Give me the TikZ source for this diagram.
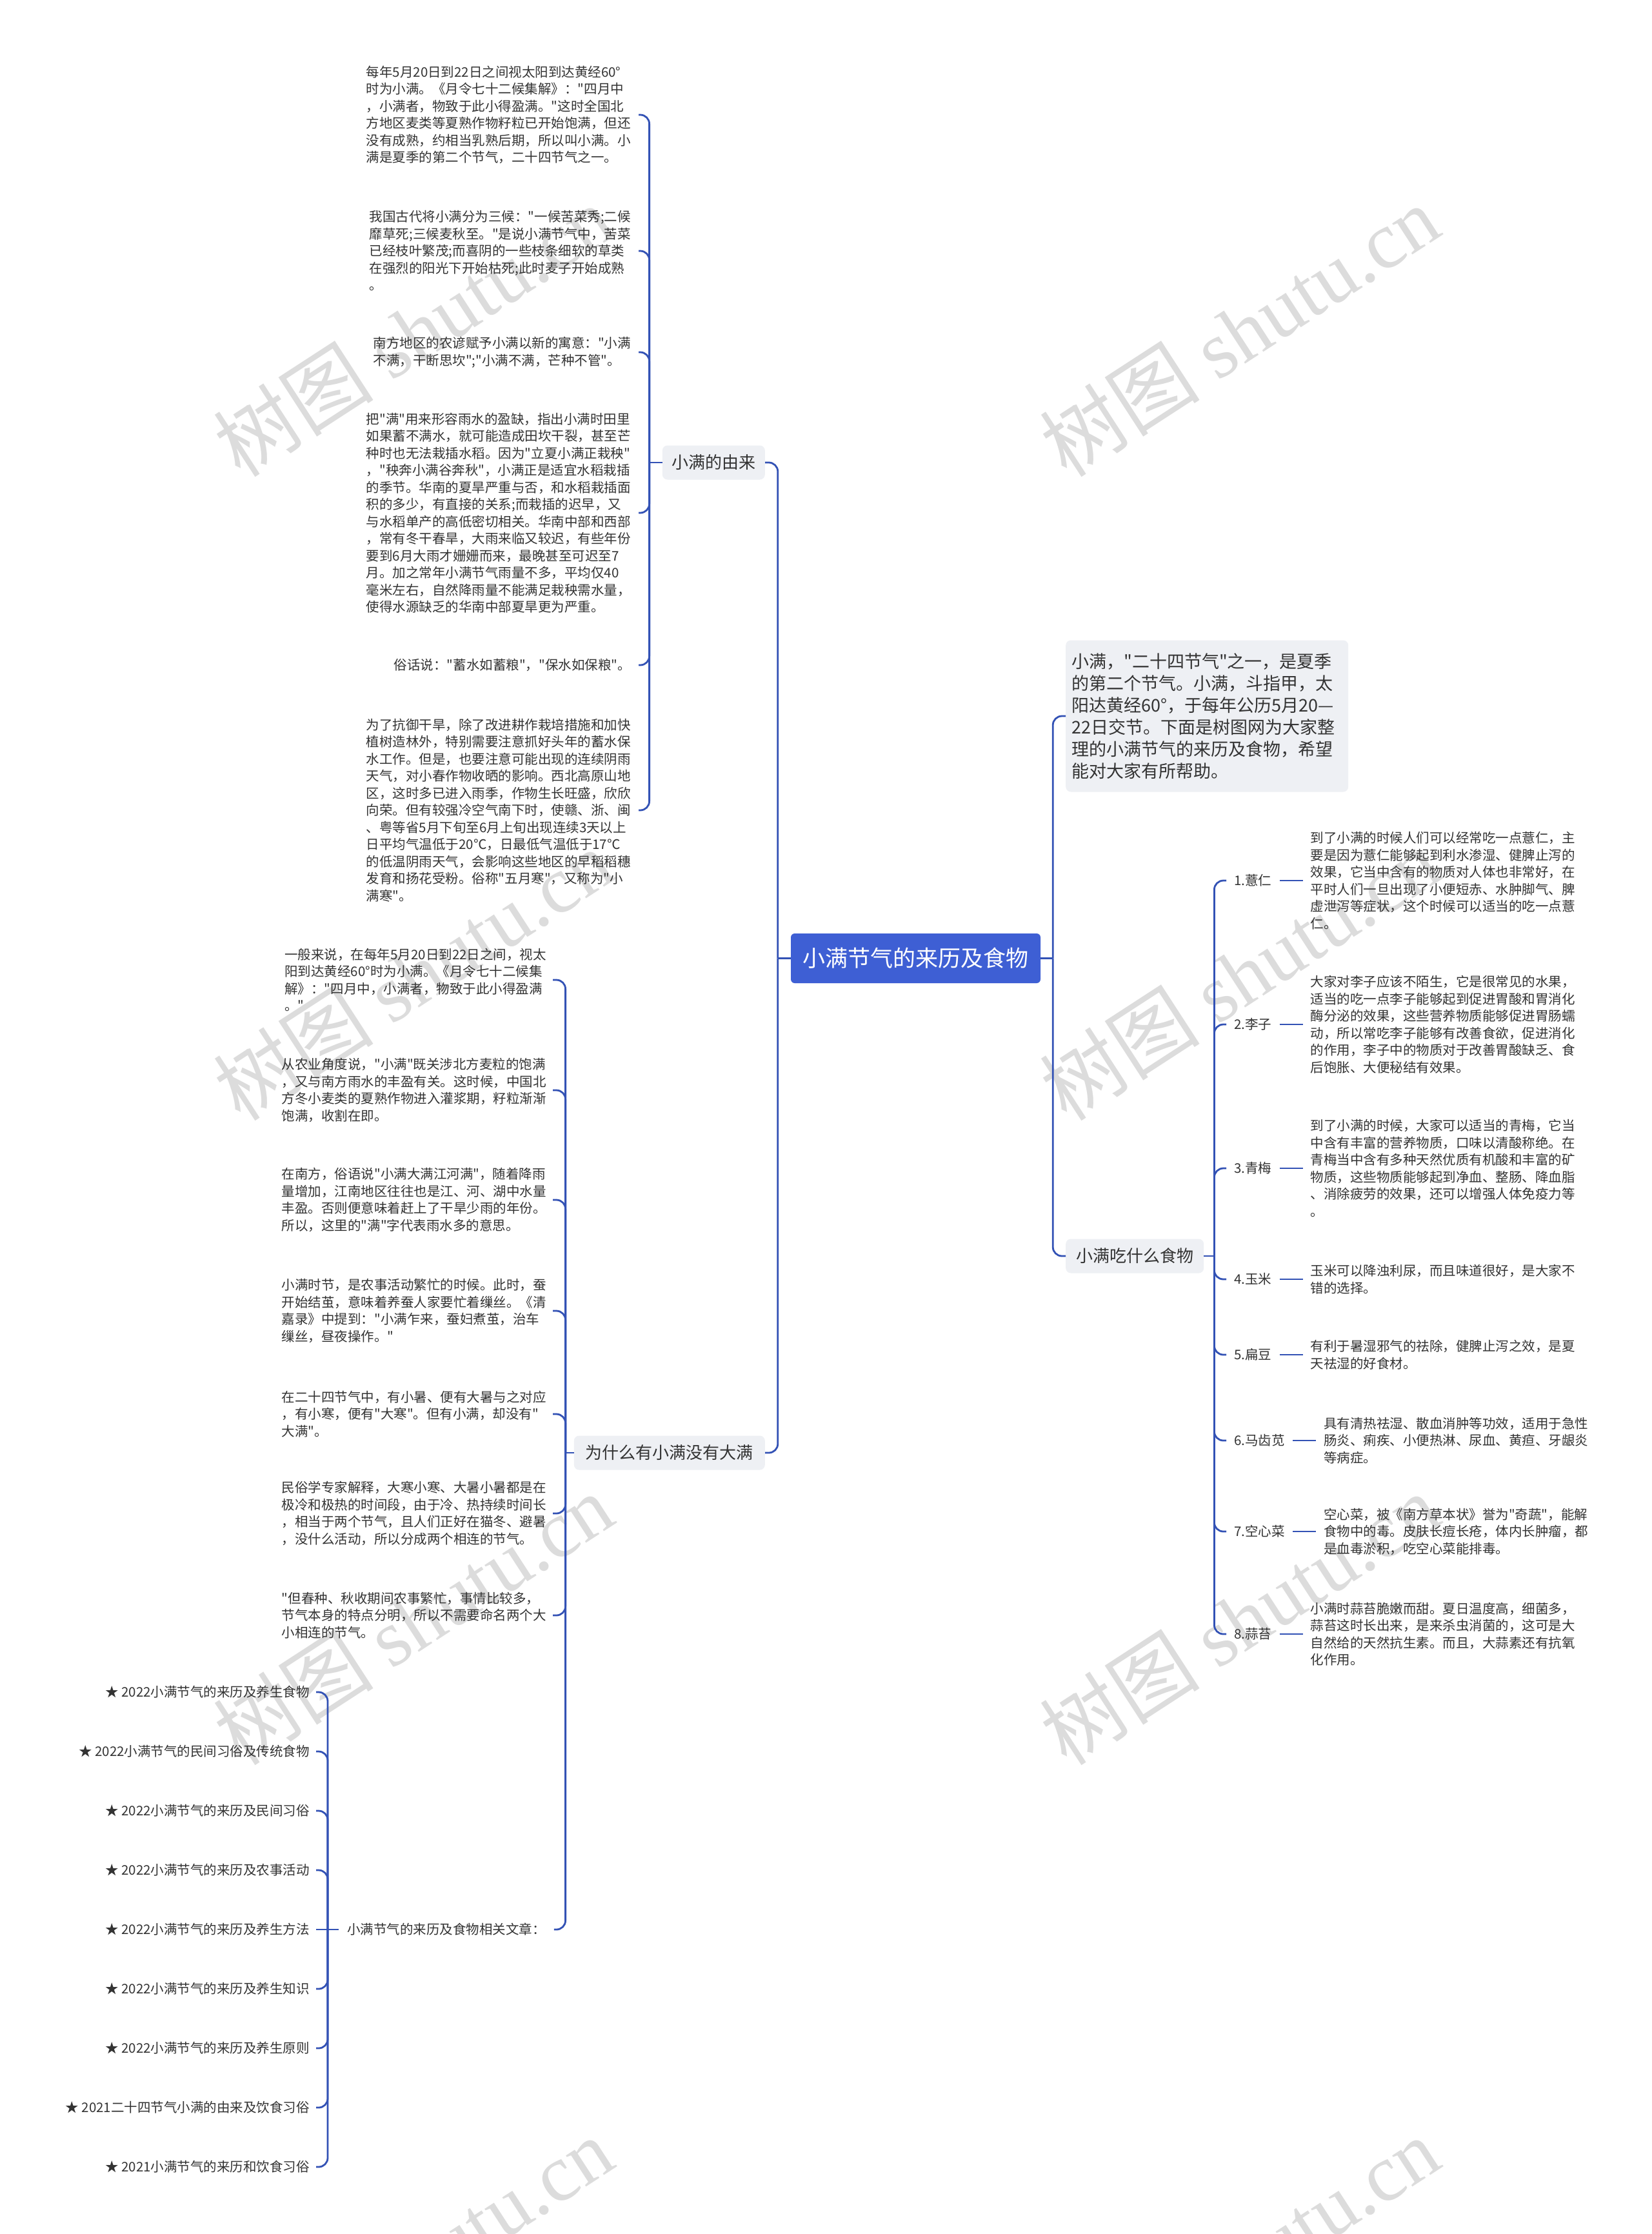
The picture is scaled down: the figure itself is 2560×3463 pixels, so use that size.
\documentclass[tikz,border=0pt]{standalone}
\usepackage{fontspec}
\setmainfont{Noto Sans CJK SC}[Ligatures=TeXOff]
\newfontfamily\wmserif{Liberation Serif}
\usetikzlibrary{calc}
\definecolor{conncol}{HTML}{3352B5}
\definecolor{rootcol}{HTML}{3E5FD4}
\definecolor{boxcol}{HTML}{EEF0F4}
\definecolor{txtcol}{HTML}{333333}
\definecolor{wmcol}{HTML}{DCDCDC}
\begin{document}
\begin{tikzpicture}[x=1pt,y=-1pt,
  conn/.style={draw=conncol, line width=2.8pt, rounded corners=14pt},
  stub/.style={draw=conncol, line width=2.8pt},
  para/.style={align=left, font=\fontsize{20.5}{26.5}\selectfont, text=txtcol, inner xsep=12pt, inner ysep=2pt},
  lpara/.style={para, inner xsep=10pt},
  item/.style={font=\fontsize{20.5}{26.5}\selectfont, text=txtcol, inner xsep=10pt, inner ysep=2pt},
  flabel/.style={font=\fontsize{20.5}{26.5}\selectfont, text=txtcol, inner xsep=12pt, inner ysep=2pt},
  topic/.style={fill=boxcol, rounded corners=8pt, minimum height=53pt, inner sep=0pt, font=\fontsize{26}{30}\selectfont, text=txtcol},
  rootbox/.style={fill=rootcol, rounded corners=6pt, minimum width=387pt, minimum height=77pt, inner sep=0pt, font=\fontsize{35}{40}\selectfont, text=white},
  introbox/.style={fill=boxcol, rounded corners=8pt, text width=420pt, inner xsep=9pt, minimum height=235pt, align=left, font=\fontsize{27}{34}\selectfont, text=txtcol},
  wm/.style={text=wmcol, font=\fontsize{125}{125}\selectfont, rotate=33, inner sep=0pt}
]
\useasboundingbox[fill=white] (0,0) rectangle (2560,3463);

% watermarks
\node[wm] (wm1) at (640,513) {树图 {\wmserif shutu.cn}};
\node[wm] (wm2) at (1921,513) {树图 {\wmserif shutu.cn}};
\node[wm] (wm3) at (640,1511) {树图 {\wmserif shutu.cn}};
\node[wm] (wm4) at (1921,1511) {树图 {\wmserif shutu.cn}};
\node[wm] (wm5) at (640,2510) {树图 {\wmserif shutu.cn}};
\node[wm] (wm6) at (1921,2510) {树图 {\wmserif shutu.cn}};
\node[wm] (wm7) at (640,3508) {树图 {\wmserif shutu.cn}};
\node[wm] (wm8) at (1921,3508) {树图 {\wmserif shutu.cn}};

% root and main topics
\node[rootbox] (root) at (1419.5,1485.5) {小满节气的来历及食物};
\node[topic, minimum width=159pt, anchor=east] (youlai) at (1186,717) {小满的由来};
\node[topic, minimum width=296pt, anchor=east] (weisha) at (1186,2252) {为什么有小满没有大满};
\node[introbox, anchor=west] (intro) at (1652,1110) {小满，"二十四节气"之一，是夏季\\的第二个节气。小满，斗指甲，太\\阳达黄经60°，于每年公历5月20—\\22日交节。下面是树图网为大家整\\理的小满节气的来历及食物，希望\\能对大家有所帮助。};
\node[topic, minimum width=214pt, anchor=west] (shiwu) at (1652,1947) {小满吃什么食物};

\coordinate (jL) at ($(root.west)+(-20,0)$);
\coordinate (jR) at ($(root.east)+(19,0)$);
\draw[stub] (root.west) -- (jL);
\draw[stub] (root.east) -- (jR);
\draw[conn] (jL) |- (youlai.east);
\draw[conn] (jL) |- (weisha.east);
\draw[conn] (jR) |- (intro.west);
\draw[conn] (jR) |- (shiwu.west);

% ---- 小满的由来 children
\node[para, anchor=east] (p1) at (990,178) {每年5月20日到22日之间视太阳到达黄经60°\\时为小满。《月令七十二候集解》："四月中\\，小满者，物致于此小得盈满。"这时全国北\\方地区麦类等夏熟作物籽粒已开始饱满，但还\\没有成熟，约相当乳熟后期，所以叫小满。小\\满是夏季的第二个节气，二十四节气之一。};
\node[para, anchor=east] (p2) at (990,389) {我国古代将小满分为三候："一候苦菜秀;二候\\靡草死;三候麦秋至。"是说小满节气中，苦菜\\已经枝叶繁茂;而喜阴的一些枝条细软的草类\\在强烈的阳光下开始枯死;此时麦子开始成熟\\。};
\node[para, anchor=east] (p3) at (990,546) {南方地区的农谚赋予小满以新的寓意："小满\\不满，干断思坎";"小满不满，芒种不管"。};
\node[para, anchor=east] (p4) at (990,795) {把"满"用来形容雨水的盈缺，指出小满时田里\\如果蓄不满水，就可能造成田坎干裂，甚至芒\\种时也无法栽插水稻。因为"立夏小满正栽秧"\\，"秧奔小满谷奔秋"，小满正是适宜水稻栽插\\的季节。华南的夏旱严重与否，和水稻栽插面\\积的多少，有直接的关系;而栽插的迟早，又\\与水稻单产的高低密切相关。华南中部和西部\\，常有冬干春旱，大雨来临又较迟，有些年份\\要到6月大雨才姗姗而来，最晚甚至可迟至7\\月。加之常年小满节气雨量不多，平均仅40\\毫米左右，自然降雨量不能满足栽秧需水量，\\使得水源缺乏的华南中部夏旱更为严重。};
\node[para, anchor=east] (p5) at (990,1031) {俗话说："蓄水如蓄粮"，"保水如保粮"。};
\node[para, anchor=east] (p6) at (990,1256) {为了抗御干旱，除了改进耕作栽培措施和加快\\植树造林外，特别需要注意抓好头年的蓄水保\\水工作。但是，也要注意可能出现的连续阴雨\\天气，对小春作物收晒的影响。西北高原山地\\区，这时多已进入雨季，作物生长旺盛，欣欣\\向荣。但有较强冷空气南下时，使赣、浙、闽\\、粤等省5月下旬至6月上旬出现连续3天以上\\日平均气温低于20℃，日最低气温低于17℃\\的低温阴雨天气，会影响这些地区的早稻稻穗\\发育和扬花受粉。俗称"五月寒"，又称为"小\\满寒"。};

\coordinate (jA) at ($(youlai.west)+(-20,0)$);
\draw[stub] (youlai.west) -- (jA);
\foreach \c in {p1,p2,p3,p4,p5,p6} \draw[conn] (jA) |- (\c.east);

% ---- 为什么有小满没有大满 children
\node[lpara, anchor=east] (q1) at (857,1519) {一般来说，在每年5月20日到22日之间，视太\\阳到达黄经60°时为小满。《月令七十二候集\\解》："四月中，小满者，物致于此小得盈满\\。"};
\node[lpara, anchor=east] (q2) at (857,1690) {从农业角度说，"小满"既关涉北方麦粒的饱满\\，又与南方雨水的丰盈有关。这时候，中国北\\方冬小麦类的夏熟作物进入灌浆期，籽粒渐渐\\饱满，收割在即。};
\node[lpara, anchor=east] (q3) at (857,1860) {在南方，俗语说"小满大满江河满"，随着降雨\\量增加，江南地区往往也是江、河、湖中水量\\丰盈。否则便意味着赶上了干旱少雨的年份。\\所以，这里的"满"字代表雨水多的意思。};
\node[lpara, anchor=east] (q4) at (857,2032) {小满时节，是农事活动繁忙的时候。此时，蚕\\开始结茧，意味着养蚕人家要忙着缫丝。《清\\嘉录》中提到："小满乍来，蚕妇煮茧，治车\\缫丝，昼夜操作。"};
\node[lpara, anchor=east] (q5) at (857,2192) {在二十四节气中，有小暑、便有大暑与之对应\\，有小寒，便有"大寒"。但有小满，却没有"\\大满"。};
\node[lpara, anchor=east] (q6) at (857,2346) {民俗学专家解释，大寒小寒、大暑小暑都是在\\极冷和极热的时间段，由于冷、热持续时间长\\，相当于两个节气，且人们正好在猫冬、避暑\\，没什么活动，所以分成两个相连的节气。};
\node[lpara, anchor=east] (q7) at (857,2504) {"但春种、秋收期间农事繁忙，事情比较多，\\节气本身的特点分明，所以不需要命名两个大\\小相连的节气。};
\node[lpara, inner xsep=13pt, anchor=west] (q8) at (525,2991) {小满节气的来历及食物相关文章：};

\coordinate (jB) at ($(weisha.west)+(-13,0)$);
\draw[stub] (weisha.west) -- (jB);
\foreach \c in {q1,q2,q3,q4,q5,q6,q7,q8} \draw[conn] (jB) |- (\c.east);

% ---- related articles list
\node[item, anchor=east] (l1) at (490,2623) {★ 2022小满节气的来历及养生食物};
\node[item, anchor=east] (l2) at (490,2715) {★ 2022小满节气的民间习俗及传统食物};
\node[item, anchor=east] (l3) at (490,2807) {★ 2022小满节气的来历及民间习俗};
\node[item, anchor=east] (l4) at (490,2899) {★ 2022小满节气的来历及农事活动};
\node[item, anchor=east] (l5) at (490,2991) {★ 2022小满节气的来历及养生方法};
\node[item, anchor=east] (l6) at (490,3083) {★ 2022小满节气的来历及养生知识};
\node[item, anchor=east] (l7) at (490,3175) {★ 2022小满节气的来历及养生原则};
\node[item, anchor=east] (l8) at (490,3267) {★ 2021二十四节气小满的由来及饮食习俗};
\node[item, anchor=east] (l9) at (490,3359) {★ 2021小满节气的来历和饮食习俗};

\coordinate (jD) at ($(q8.west)+(-17,0)$);
\draw[stub] (q8.west) -- (jD);
\draw[stub] (jD) -- (l5.east);
\foreach \c in {l1,l2,l3,l4,l6,l7,l8,l9} \draw[conn] (jD) |- (\c.east);

% ---- foods
\node[flabel, anchor=west] (f1) at (1901,1365) {1.薏仁};
\node[flabel, anchor=west] (f2) at (1901,1588) {2.李子};
\node[flabel, anchor=west] (f3) at (1901,1811) {3.青梅};
\node[flabel, anchor=west] (f4) at (1901,1983) {4.玉米};
\node[flabel, anchor=west] (f5) at (1901,2100) {5.扁豆};
\node[flabel, anchor=west] (f6) at (1901,2233) {6.马齿苋};
\node[flabel, anchor=west] (f7) at (1901,2374) {7.空心菜};
\node[flabel, anchor=west] (f8) at (1901,2533) {8.蒜苔};

\node[para, anchor=west] (t1) at ($(f1.east)+(36,0)$) {到了小满的时候人们可以经常吃一点薏仁，主\\要是因为薏仁能够起到利水渗湿、健脾止泻的\\效果，它当中含有的物质对人体也非常好，在\\平时人们一旦出现了小便短赤、水肿脚气、脾\\虚泄泻等症状，这个时候可以适当的吃一点薏\\仁。};
\node[para, anchor=west] (t2) at ($(f2.east)+(36,0)$) {大家对李子应该不陌生，它是很常见的水果，\\适当的吃一点李子能够起到促进胃酸和胃消化\\酶分泌的效果，这些营养物质能够促进胃肠蠕\\动，所以常吃李子能够有改善食欲，促进消化\\的作用，李子中的物质对于改善胃酸缺乏、食\\后饱胀、大便秘结有效果。};
\node[para, anchor=west] (t3) at ($(f3.east)+(36,0)$) {到了小满的时候，大家可以适当的青梅，它当\\中含有丰富的营养物质，口味以清酸称绝。在\\青梅当中含有多种天然优质有机酸和丰富的矿\\物质，这些物质能够起到净血、整肠、降血脂\\、消除疲劳的效果，还可以增强人体免疫力等\\。};
\node[para, anchor=west] (t4) at ($(f4.east)+(36,0)$) {玉米可以降浊利尿，而且味道很好，是大家不\\错的选择。};
\node[para, anchor=west] (t5) at ($(f5.east)+(36,0)$) {有利于暑湿邪气的祛除，健脾止泻之效，是夏\\天祛湿的好食材。};
\node[para, anchor=west] (t6) at ($(f6.east)+(36,0)$) {具有清热祛湿、散血消肿等功效，适用于急性\\肠炎、痢疾、小便热淋、尿血、黄疸、牙龈炎\\等病症。};
\node[para, anchor=west] (t7) at ($(f7.east)+(36,0)$) {空心菜，被《南方草本状》誉为"奇蔬"，能解\\食物中的毒。皮肤长痘长疮，体内长肿瘤，都\\是血毒淤积，吃空心菜能排毒。};
\node[para, anchor=west] (t8) at ($(f8.east)+(36,0)$) {小满时蒜苔脆嫩而甜。夏日温度高，细菌多，\\蒜苔这时长出来，是来杀虫消菌的，这可是大\\自然给的天然抗生素。而且，大蒜素还有抗氧\\化作用。};

\coordinate (jE) at ($(shiwu.east)+(16,0)$);
\draw[stub] (shiwu.east) -- (jE);
\foreach \c in {f1,f2,f3,f4,f5,f6,f7,f8} \draw[conn] (jE) |- (\c.west);
\foreach \k in {1,...,8} \draw[stub] (f\k.east) -- (t\k.west);
\end{tikzpicture}
\end{document}
